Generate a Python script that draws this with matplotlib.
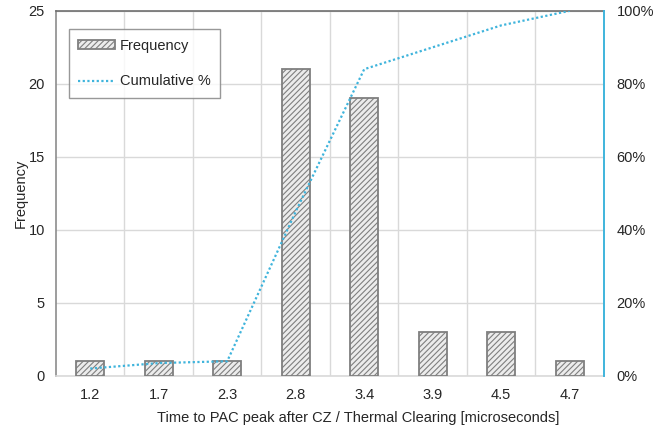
import matplotlib
matplotlib.use("Agg")
import matplotlib.pyplot as plt
import numpy as np
from matplotlib.ticker import FuncFormatter, MultipleLocator, FixedLocator

plt.rcParams['font.family'] = ['Liberation Sans', 'DejaVu Sans']
plt.rcParams['hatch.color'] = '#8c8c8c'
plt.rcParams['hatch.linewidth'] = 0.8

categories = ['1.2', '1.7', '2.3', '2.8', '3.4', '3.9', '4.5', '4.7']
frequency = [1, 1, 1, 21, 19, 3, 3, 1]
cumulative_pct = [2, 3.5, 4, 45, 84, 90, 96, 100]

line_color = '#3fb4dc'
grid_color = '#d9d9d9'
text_color = '#262626'

fig = plt.figure(figsize=(6.55, 4.32), dpi=100)
ax = fig.add_axes([0.0855, 0.130, 0.8365, 0.845])
x = np.arange(len(categories))

bars = ax.bar(x, frequency, width=0.41, color='#ececec', edgecolor='#7f7f7f',
              linewidth=1.3, hatch='//////', label='Frequency', zorder=3)

ax.set_xlim(-0.5, len(categories) - 0.5)
ax.set_ylim(0, 25)
ax.yaxis.set_major_locator(MultipleLocator(5))
ax.set_xticks(x)
ax.set_xticklabels(categories)
ax.xaxis.set_minor_locator(FixedLocator(np.arange(0.5, len(categories) - 0.5, 1)))
ax.grid(axis='y', which='major', color=grid_color, linewidth=1, zorder=0)
ax.grid(axis='x', which='minor', color=grid_color, linewidth=1, zorder=0)
ax.tick_params(which='both', length=0, labelsize=10.5, colors=text_color)
ax.tick_params(axis='x', pad=9)
ax.tick_params(axis='y', pad=8)
ax.set_ylabel('Frequency', fontsize=10.5, color=text_color, labelpad=0.5)
ax.set_xlabel('Time to PAC peak after CZ / Thermal Clearing [microseconds]',
              fontsize=10.5, color=text_color, labelpad=8)
ax.xaxis.set_label_coords(0.552, -0.095)

ax.spines['left'].set_color('#8c8c8c')
ax.spines['left'].set_linewidth(1.2)
ax.spines['top'].set_color('#6e6e6e')
ax.spines['top'].set_linewidth(1.2)
ax.spines['bottom'].set_color(grid_color)
ax.spines['bottom'].set_linewidth(1.2)
ax.spines['right'].set_visible(False)

ax2 = ax.twinx()
line, = ax2.plot(x, cumulative_pct, color=line_color, linestyle=(0, (1, 1.1)),
                 linewidth=1.6, label='Cumulative %', zorder=4)
ax2.set_ylim(0, 100)
ax2.yaxis.set_major_locator(MultipleLocator(20))
ax2.yaxis.set_major_formatter(FuncFormatter(lambda v, p: f'{int(v)}%'))
ax2.tick_params(length=0, labelsize=10.5, colors=text_color, pad=9)
for s in ['left', 'top', 'bottom']:
    ax2.spines[s].set_visible(False)
ax2.spines['right'].set_color(line_color)
ax2.spines['right'].set_linewidth(1.4)

leg = ax.legend([bars, line], ['Frequency', 'Cumulative %'],
                loc='upper left', bbox_to_anchor=(0.0235, 0.95),
                fontsize=10.5, frameon=True, fancybox=False,
                edgecolor='#7f7f7f', borderpad=0.65, labelspacing=1.5,
                handlelength=2.5, handleheight=0.6, handletextpad=0.35,
                borderaxespad=0)
leg.get_frame().set_linewidth(1.0)
leg.set_zorder(10)
for t in leg.get_texts():
    t.set_color(text_color)

fig.savefig('out.png', dpi=100)
